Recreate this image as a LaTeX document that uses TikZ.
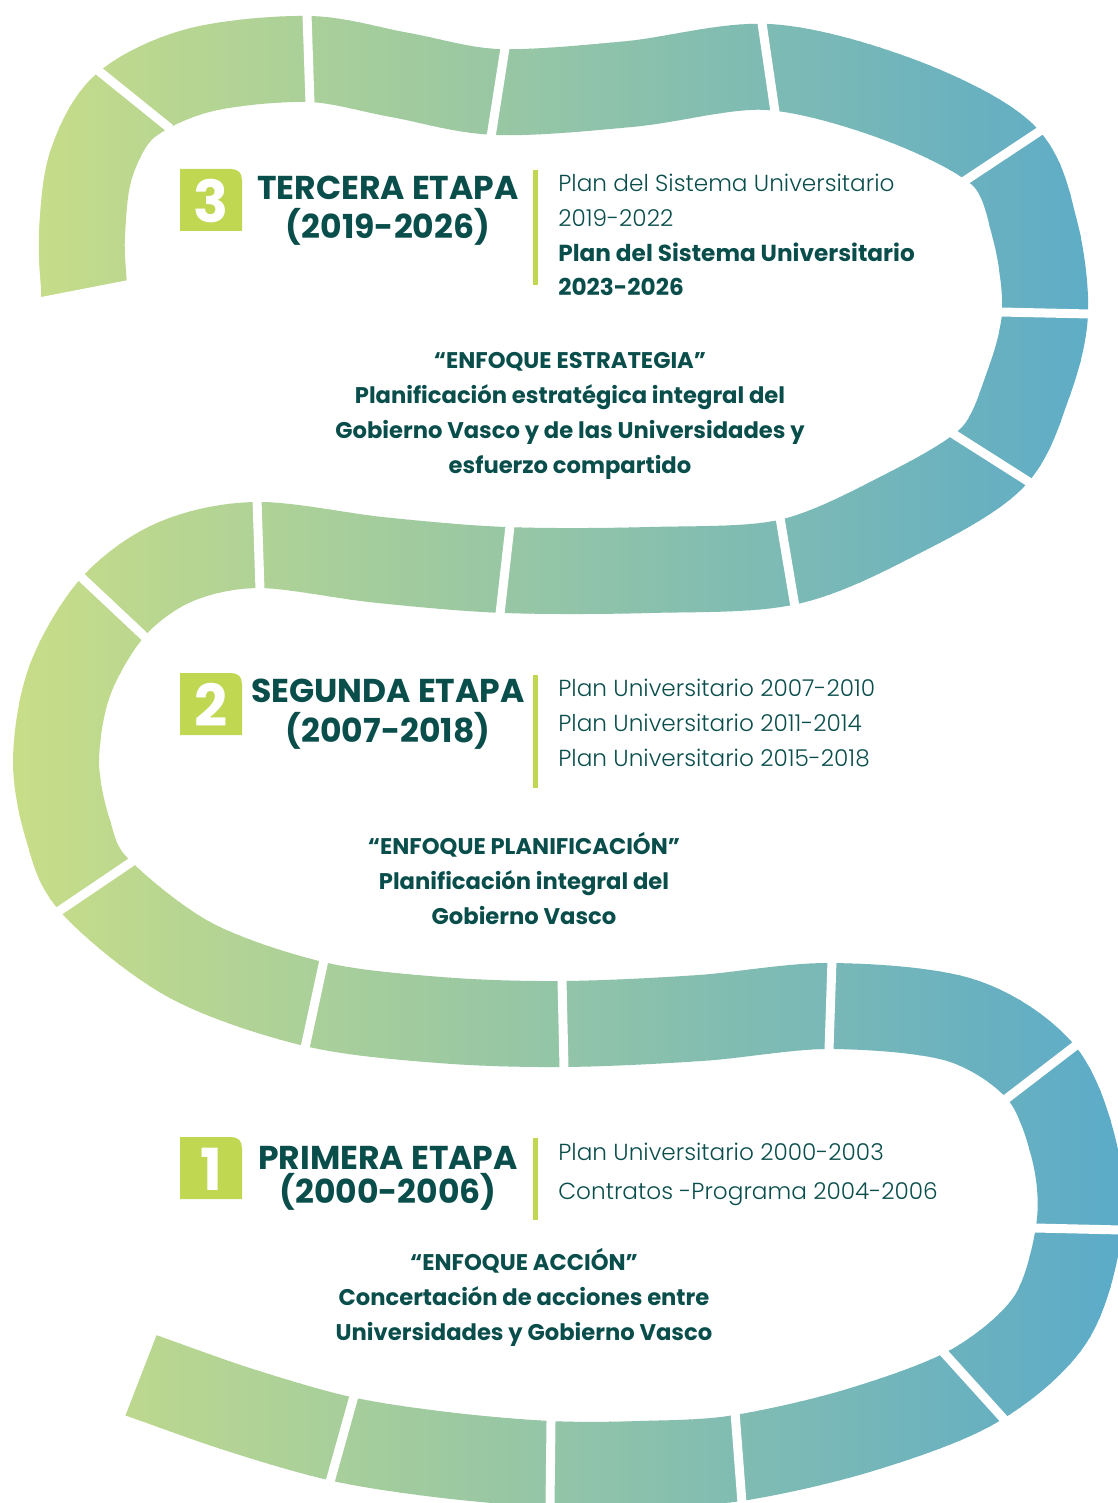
\documentclass[tikz,border=0pt]{standalone}
\usepackage{fontspec}
\setmainfont{Poppins}
\newfontfamily\lightfont{Poppins Light}

\definecolor{roadleft}{RGB}{201,222,135}
\definecolor{roadright}{RGB}{92,171,200}
\definecolor{etapagreen}{RGB}{192,215,82}
\definecolor{textteal}{RGB}{10,78,76}

% eje del camino (coordenadas en px)
\def\roadline{plot[smooth,tension=0.55] coordinates {(85,330) (84,289) (82,235) (91,165) (125,106) (200,70)
  (309,59) (400,75) (497,92) (630,84) (768,67) (900,100) (1003,155) (1035,230) (1045,313)
  (1028,385) (992,458) (900,515) (788,562) (650,570) (505,570) (380,560) (258,545) (175,562)
  (113,607) (70,680) (56,760) (68,830) (95,886) (190,960) (314,1004) (440,1020) (563,1024)
  (700,1018) (830,1006) (960,1020) (1040,1071) (1074,1150) (1079,1229) (1050,1320) (974,1386)
  (860,1430) (738,1458) (640,1464) (550,1464) (445,1455) (342,1439) (240,1410) (140,1375)
  (100,1362)}}

\tikzset{
  road/.style={line width=1.72cm,line cap=butt},
  gapline/.style={white,line width=0.18cm,shorten >=-6pt,shorten <=-6pt},
  numero/.style={font=\bfseries\fontsize{33}{33}\selectfont,text=white,inner sep=0pt},
  etapa/.style={font=\bfseries\fontsize{18.8}{22.7}\selectfont,text=textteal,align=center,inner sep=0pt,anchor=base},
  plan/.style={font=\lightfont\fontsize{13.2}{19.8}\selectfont,text=textteal,align=left,inner sep=0pt,anchor=base west},
  enfoque/.style={font=\bfseries\fontsize{12.9}{19.8}\selectfont,text=textteal,align=center,inner sep=0pt,anchor=base},
}

\begin{document}
\begin{tikzpicture}[x=0.02cm,y=-0.02cm]
  \useasboundingbox (0,0) rectangle (1117,1503);

  % camino con degradado horizontal (franjas de 10 px)
  \foreach \i in {0,...,111}{
    \pgfmathsetmacro\pct{(\i*10+5)/11.17}
    \colorlet{stripcol}{roadright!\pct!roadleft}
    \begin{scope}
      \clip (\i*10-0.6,-50) rectangle (\i*10+10.6,1553);
      \draw[road,stripcol] \roadline;
    \end{scope}
  }

  % cortes entre tramos
  \draw[gapline] (100,72) -- (162,122);
  \draw[gapline] (307,14) -- (310,104);
  \draw[gapline] (505,48) -- (491,137);
  \draw[gapline] (762,23) -- (775,112);
  \draw[gapline] (1040,131) -- (966,180);
  \draw[gapline] (1090,314) -- (1000,312);
  \draw[gapline] (1029,482) -- (955,435);
  \draw[gapline] (795,607) -- (780,518);
  \draw[gapline] (500,614) -- (510,526);
  \draw[gapline] (260,590) -- (257,499);
  \draw[gapline] (80,576) -- (146,638);
  \draw[gapline] (62,909) -- (130,863);
  \draw[gapline] (305,1048) -- (324,960);
  \draw[gapline] (564,1068) -- (562,980);
  \draw[gapline] (829,1050) -- (832,960);
  \draw[gapline] (1075,1046) -- (1006,1099);
  \draw[gapline] (1122,1230) -- (1035,1228);
  \draw[gapline] (1002,1417) -- (945,1354);
  \draw[gapline] (742,1503) -- (735,1412);
  \draw[gapline] (550,1505) -- (551,1422);
  \draw[gapline] (330,1482) -- (354,1396);

  % extremos cortados en diagonal
  \fill[white] (0,305) -- (170,272) -- (170,345) -- (0,345) -- cycle;
  \fill[white] (172,1295) -- (110,1455) -- (0,1455) -- (0,1295) -- cycle;

  % etapa 3
  \fill[etapagreen] (180,231) -- (180,169) -- (231,169) .. controls (238,169) and (242,173) .. (242,180) -- (242,231) -- cycle;
  \node[numero] (num3) at (211,201) {3};
  \node[etapa] (etapa3) at (388,239) {TERCERA ETAPA\\(2019-2026)};
  \fill[etapagreen] (533,170) rectangle (538,285);
  \node[plan] (plan3) at (558,296) {Plan del Sistema Universitario\\2019-2022\\{\normalfont\bfseries Plan del Sistema Universitario}\\{\normalfont\bfseries 2023-2026}};
  \node[enfoque] (enfoque3) at (570,473) {“ENFOQUE ESTRATEGIA”\\Planificación estratégica integral del\\Gobierno Vasco y de las Universidades y\\esfuerzo compartido};

  % etapa 2
  \fill[etapagreen] (180,735) -- (180,673) -- (231,673) .. controls (238,673) and (242,677) .. (242,684) -- (242,735) -- cycle;
  \node[numero] (num2) at (211,705) {2};
  \node[etapa] (etapa2) at (388,742) {SEGUNDA ETAPA\\(2007-2018)};
  \fill[etapagreen] (533,675) rectangle (538,788);
  \node[plan] (plan2) at (558,766) {Plan Universitario 2007-2010\\Plan Universitario 2011-2014\\Plan Universitario 2015-2018};
  \node[enfoque] (enfoque2) at (524,924) {“ENFOQUE PLANIFICACIÓN”\\Planificación integral del\\Gobierno Vasco};

  % etapa 1
  \fill[etapagreen] (180,1199) -- (180,1137) -- (231,1137) .. controls (238,1137) and (242,1141) .. (242,1148) -- (242,1199) -- cycle;
  \node[numero] (num1) at (211,1169) {1};
  \node[etapa] (etapa1) at (388,1203) {PRIMERA ETAPA\\[-3.4pt](2000-2006)};
  \fill[etapagreen] (533,1138) rectangle (538,1220);
  \node[plan] (plan1) at (558,1199) {Plan Universitario 2000-2003\\[2.3pt]Contratos -Programa 2004-2006};
  \node[enfoque] (enfoque1) at (524,1340) {“ENFOQUE ACCIÓN”\\Concertación de acciones entre\\Universidades y Gobierno Vasco};
\end{tikzpicture}
\end{document}
